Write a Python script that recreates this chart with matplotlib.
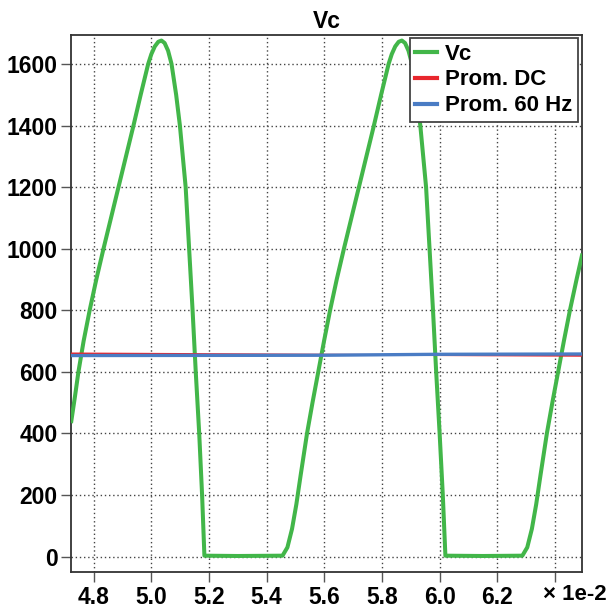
import matplotlib.pyplot as plt
from matplotlib.ticker import FixedLocator, FuncFormatter

plt.rcParams['font.family'] = ['Liberation Sans', 'DejaVu Sans']
plt.rcParams['font.weight'] = 'bold'

# time axis in units of 1e-2 s
t_vc = [4.7223, 4.735, 4.747, 4.765, 4.786, 4.809, 4.834, 4.860, 4.886, 4.912,
        4.938, 4.963, 4.989, 5.000, 5.012, 5.024, 5.035, 5.046, 5.058, 5.070,
        5.086, 5.099, 5.119, 5.131, 5.143, 5.154, 5.166, 5.176, 5.184, 5.30,
        5.455, 5.472, 5.488, 5.503, 5.518, 5.540, 5.559, 5.579, 5.599, 5.620,
        5.643, 5.668, 5.694, 5.720, 5.746, 5.772, 5.797, 5.823, 5.834, 5.846,
        5.858, 5.869, 5.880, 5.892, 5.904, 5.920, 5.933, 5.953, 5.965, 5.977,
        5.988, 6.000, 6.011, 6.020, 6.15, 6.287, 6.304, 6.320, 6.335, 6.350,
        6.372, 6.391, 6.411, 6.431, 6.452, 6.475, 6.4938]
v_vc = [440, 520, 600, 700, 800, 900, 1000, 1100, 1200, 1300,
        1400, 1500, 1600, 1632, 1657, 1672, 1676, 1668, 1643, 1600,
        1500, 1400, 1200, 1000, 800, 600, 400, 200, 3, 2,
        3, 30, 90, 170, 265, 400, 500, 600, 700, 800,
        900, 1000, 1100, 1200, 1300, 1400, 1500, 1600, 1632, 1657,
        1672, 1676, 1668, 1643, 1600, 1500, 1400, 1200, 1000, 800,
        600, 400, 200, 3, 2, 3, 30, 90, 170, 265,
        400, 500, 600, 700, 800, 900, 978]

t_dc = [4.7223, 6.4938]
v_dc = [660, 652]

t_60 = [4.7223, 5.60, 5.99, 6.4938]
v_60 = [653, 654, 657, 658]

x_ticks = [4.8, 5.0, 5.2, 5.4, 5.6, 5.8, 6.0, 6.2, 6.4]
y_ticks = [0, 200, 400, 600, 800, 1000, 1200, 1400, 1600]

fig = plt.figure(figsize=(6.11, 6.08), dpi=100)
ax = fig.add_axes([0.1167, 0.0587, 0.9525 - 0.1167, 0.9419 - 0.0587])

ax.plot(t_vc, v_vc, color='#42b649', lw=2.9, label='Vc', zorder=3)
ax.plot(t_dc, v_dc, color='#e8262d', lw=1.3, label='Prom. DC', zorder=4)
ax.plot(t_60, v_60, color='#4a7cc4', lw=2.4, label='Prom. 60 Hz', zorder=5)

ax.set_xlim(4.7223, 6.4938)
ax.set_ylim(-51, 1693)
ax.xaxis.set_major_locator(FixedLocator(x_ticks))
ax.yaxis.set_major_locator(FixedLocator(y_ticks))
ax.xaxis.set_major_formatter(FuncFormatter(lambda v, p: '' if v > 6.3 else f'{v:.1f}'))
ax.tick_params(direction='out', length=7, width=1, color='#555555',
               labelsize=16.5, pad=3)
ax.grid(True, linestyle=(0, (1, 2)), color='#444444', lw=1)
for s in ax.spines.values():
    s.set_color('#333333')
    s.set_linewidth(1.3)

ax.set_title('Vc', fontsize=16.5, fontweight='bold', pad=5)
fig.text(0.993, 1 - 595 / 608, '× 1e-2', ha='right', va='center',
         fontsize=16, fontweight='bold')

leg = ax.legend(loc='upper right', bbox_to_anchor=(578 / 611, 1 - 38 / 608),
                bbox_transform=fig.transFigure, borderaxespad=0, fancybox=False,
                framealpha=1, edgecolor='#444444', fontsize=16, handlelength=1.0,
                handletextpad=0.35, borderpad=0.25, labelspacing=0.22)
leg.get_frame().set_linewidth(1.3)
for line in leg.get_lines():
    line.set_linewidth(3)

fig.savefig('out.png', dpi=100)
